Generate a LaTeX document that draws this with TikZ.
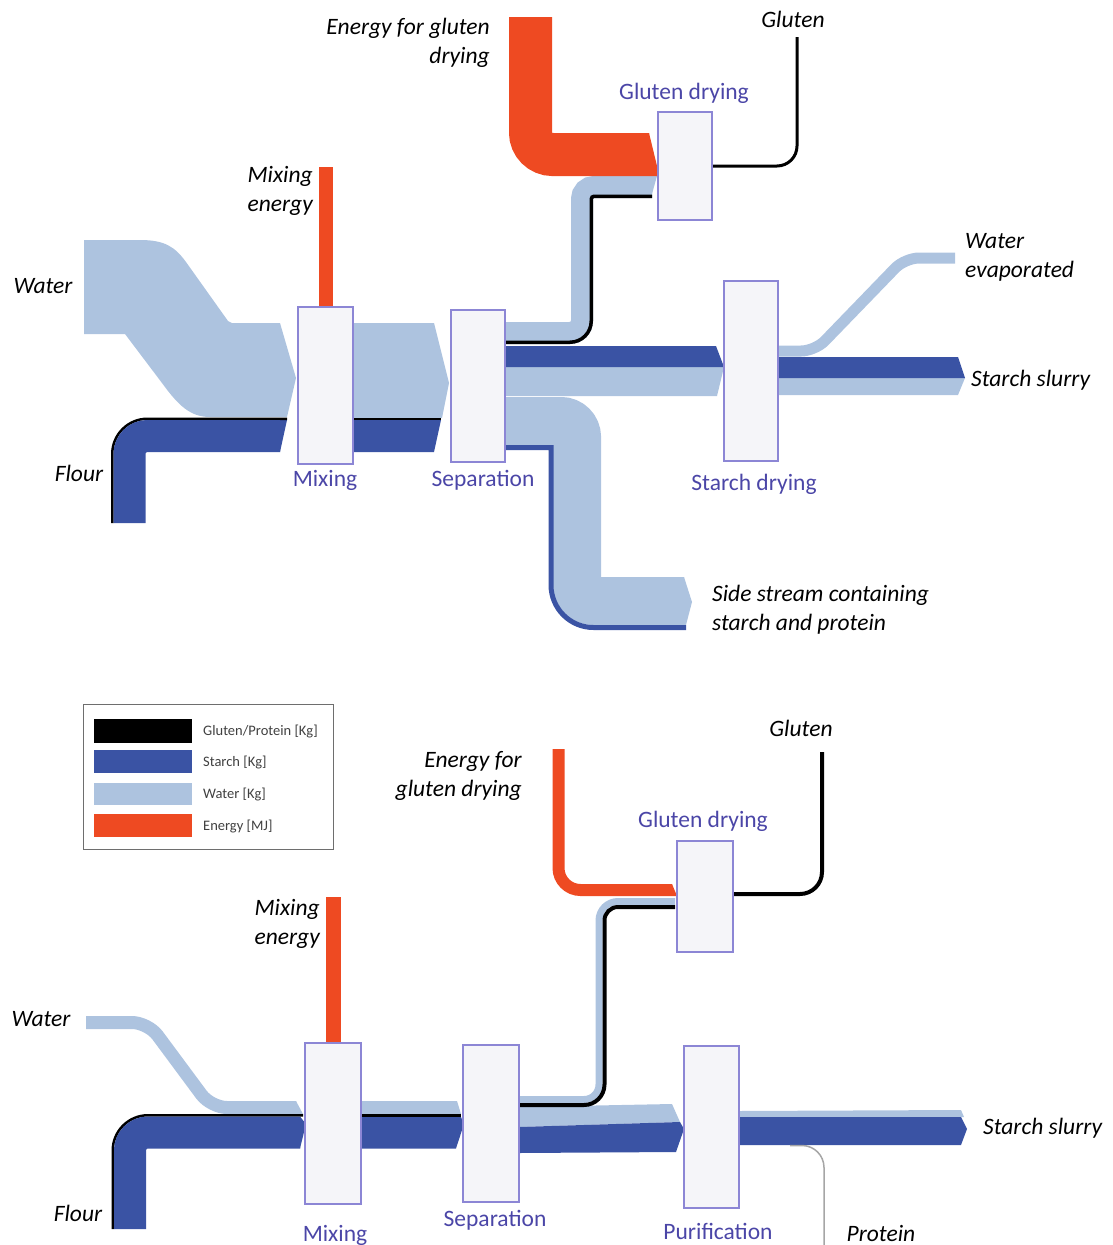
\documentclass[tikz,border=0pt]{standalone}
\usepackage{fontspec}
\setmainfont{Carlito}
\usetikzlibrary{positioning}

\definecolor{starchc}{HTML}{3A53A4}
\definecolor{waterc}{HTML}{ADC3DF}
\definecolor{energyc}{HTML}{EE4A22}
\definecolor{boxfill}{HTML}{F5F5F9}
\definecolor{boxline}{HTML}{8C86D5}
\definecolor{proctext}{HTML}{4B46A7}
\definecolor{legline}{HTML}{6E6E6E}

\tikzset{
    flow/.style = {line cap = butt},
    proc/.style = {draw = boxline, fill = boxfill, line width = 1.3pt, inner sep = 0pt},
    lbl/.style = {font = \fontsize{23.5}{29}\selectfont\itshape, inner sep = 0pt},
    plbl/.style = {text = proctext, font = \fontsize{23.5}{27}\selectfont, inner sep = 0pt},
    leglbl/.style = {font = \fontsize{14.5}{16}\selectfont, text = black!75, inner sep = 0pt, anchor = west}
}

\begin{document}
\begin{tikzpicture}[x = 1pt, y = -1pt]
    \useasboundingbox (0, 0) rectangle (1112, 1245);

    % upper chart
    \fill[waterc]
        (84, 240) -- (140, 240) .. controls (165, 240) and (175, 247) .. (186, 262)
        -- (228, 321) -- (232, 323) -- (280, 323) -- (296, 378) -- (287, 417) -- (210, 417)
        .. controls (190, 417) and (178, 405) .. (162, 383) -- (125, 334) -- (84, 334) -- cycle
        (353, 323) -- (434, 323) -- (449, 383) -- (442, 418) -- (353, 418) -- cycle
        (505, 367) -- (724, 367) -- (717, 396) -- (505, 396) -- cycle
        (778, 378) -- (965, 378) -- (958, 395) -- (778, 395) -- cycle
        (684, 577) -- (692, 602) -- (686, 625) -- (684, 625) -- cycle
        (652, 176) -- (657, 176) -- (652, 194) -- cycle;
    \fill[starchc]
        (280, 420) -- (287, 420) -- (280, 452) -- cycle
        (353, 420) -- (441, 420) -- (434, 452) -- (353, 452) -- cycle
        (505, 346) -- (716, 346) -- (724, 367) -- (505, 367) -- cycle
        (778, 357) -- (958, 357) -- (965, 378) -- (778, 378) -- cycle;

    \draw[black, line width = 2.5, rounded corners = 35.25pt] (112.25, 523) -- (112.25, 418.75) -- (287, 418.75);
    \draw[flow, starchc, line width = 32, rounded corners = 18pt] (129.5, 523) -- (129.5, 436) -- (280, 436);
    \draw[black, line width = 2.5] (353, 419) -- (441, 419);

    \draw[flow, waterc, line width = 48, rounded corners = 16pt] (505, 421) -- (577, 421) -- (577, 601) -- (684, 601);
    \draw[flow, starchc, line width = 5] (505, 447.5) -- (551, 447.5) [rounded corners = 42.5pt] -- (551, 627.5) -- (686, 627.5);

    \draw[flow, waterc, line width = 22, rounded corners = 12pt] (505, 333) -- (582, 333) -- (582, 187) -- (652, 187);
    \draw[flow, black, line width = 3.5] (505, 342.25) [rounded corners = 21.25pt] -- (591.25, 342.25) [rounded corners = 2.75pt] -- (591.25, 196.25) -- (652, 196.25);

    \draw[flow, energyc, line width = 43, rounded corners = 22pt] (530.5, 17) -- (530.5, 154.5) -- (649, 154.5);
    \fill[energyc] (649, 133) -- (658, 170) -- (657, 176) -- (649, 176) -- cycle;
    \draw[flow, energyc, line width = 14] (326, 167) -- (326, 307);

    \draw[black, line width = 3, rounded corners = 20pt] (712, 166) -- (797, 166) -- (797, 37);
    \draw[flow, waterc, line width = 11, rounded corners = 14pt] (778, 351) -- (815, 351) -- (905, 258) -- (955, 258);

    \node[proc, minimum width = 55pt, minimum height = 157pt] (mixA) at (325.5, 385.5) {};
    \node[proc, minimum width = 54pt, minimum height = 152pt] (sepA) at (478, 386) {};
    \node[proc, minimum width = 54pt, minimum height = 108pt] (glutA) at (685, 166) {};
    \node[proc, minimum width = 54pt, minimum height = 180pt] (stdryA) at (751, 371) {};

    \node[plbl] (tMixA) at (325, 480) {Mixing};
    \node[plbl] (tSepA) at (483, 480) {Separation};
    \node[plbl] (tGlutA) at (684, 93) {Gluten drying};
    \node[plbl] (tStdryA) at (754, 484) {Starch drying};

    \node[lbl, align = right, anchor = east] (inEnGlutA) at (490, 43) {Energy for gluten\\drying};
    \node[lbl] (outGlutA) at (793, 19) {Gluten};
    \node[lbl, align = right, anchor = east] (inEnMixA) at (313, 191) {Mixing\\energy};
    \node[lbl] (inWaterA) at (43, 286) {Water};
    \node[lbl] (inFlourA) at (79, 473) {Flour};
    \node[lbl, align = left, anchor = west] (outEvapA) at (965, 257) {Water\\evaporated};
    \node[lbl, anchor = west] (outSlurryA) at (971, 380) {Starch slurry};
    \node[lbl, align = left, anchor = west] (outSideA) at (712, 610) {Side stream containing\\starch and protein};

    % legend
    \node[draw = legline, line width = 1.2pt, minimum width = 250pt, minimum height = 145pt, inner sep = 0pt, anchor = north west] (legend) at (83, 704) {};
    \fill[black] (94, 719) rectangle (192, 743);
    \fill[starchc] (94, 750) rectangle (192, 773);
    \fill[waterc] (94, 783) rectangle (192, 805);
    \fill[energyc] (94, 814) rectangle (192, 837);
    \node[leglbl] (legGlut) at (203, 731) {Gluten/Protein [Kg]};
    \node[leglbl] (legStarch) at (203, 762) {Starch [Kg]};
    \node[leglbl] (legWater) at (203, 794) {Water [Kg]};
    \node[leglbl] (legEnergy) at (203, 826) {Energy [MJ]};

    % lower chart
    \fill[waterc]
        (296, 1101) -- (303, 1114) -- (296, 1114) -- cycle
        (361, 1101) -- (457, 1101) -- (461, 1114) -- (361, 1114) -- cycle
        (519, 1107) -- (672, 1104) -- (680, 1122) -- (519, 1127) -- cycle
        (739, 1111) -- (961, 1110) -- (964, 1117) -- (739, 1117) -- cycle;
    \fill[starchc]
        (300, 1116.5) -- (306, 1124) -- (300, 1148.5) -- cycle
        (361, 1117) -- (461, 1117) -- (464, 1124) -- (456, 1148.5) -- (361, 1148.5) -- cycle
        (519, 1127) -- (680, 1122) -- (684, 1129) -- (676, 1152) -- (519, 1153) -- cycle
        (739, 1117) -- (961, 1117) -- (967, 1129) -- (961, 1145) -- (739, 1145) -- cycle;

    \draw[flow, waterc, line width = 13, rounded corners = 16pt] (86, 1022.5) -- (148, 1022.5) -- (211, 1107.5) -- (296, 1107.5);
    \draw[black, line width = 2.5, rounded corners = 35.25pt] (112.75, 1229) -- (112.75, 1115.25) -- (303, 1115.25);
    \draw[flow, starchc, line width = 32, rounded corners = 18pt] (130, 1229) -- (130, 1132.5) -- (300, 1132.5);
    \draw[black, line width = 2.5] (361, 1115.5) -- (461, 1115.5);

    \draw[flow, waterc, line width = 7] (519, 1099.5) [rounded corners = 15pt] -- (599, 1099.5) [rounded corners = 19pt] -- (599, 901.5) -- (675, 901.5);
    \draw[flow, black, line width = 4] (519, 1105) [rounded corners = 20.5pt] -- (604.5, 1105) [rounded corners = 13.5pt] -- (604.5, 907) -- (675, 907);

    \draw[flow, energyc, line width = 12, rounded corners = 22pt] (558.5, 749) -- (558.5, 890) -- (672, 890);
    \fill[energyc] (672, 884) -- (677, 896) -- (672, 896) -- cycle;
    \draw[flow, energyc, line width = 15] (333.5, 897) -- (333.5, 1043);

    \draw[black, line width = 4, rounded corners = 22pt] (733, 894) -- (822, 894) -- (822, 752);
    \draw[gray!70, line width = 1.5, rounded corners = 22pt] (790, 1145.5) -- (824, 1145.5) -- (824, 1250);

    \node[proc, minimum width = 56pt, minimum height = 161pt] (mixB) at (333, 1123.5) {};
    \node[proc, minimum width = 56pt, minimum height = 157pt] (sepB) at (491, 1123.5) {};
    \node[proc, minimum width = 56pt, minimum height = 111pt] (glutB) at (705, 896.5) {};
    \node[proc, minimum width = 55pt, minimum height = 162pt] (purB) at (711.5, 1127) {};

    \node[plbl] (tMixB) at (335, 1235) {Mixing};
    \node[plbl] (tSepB) at (495, 1220) {Separation};
    \node[plbl] (tGlutB) at (703, 821) {Gluten drying};
    \node[plbl] (tPurB) at (718, 1231) {Purification};

    \node[lbl] (outGlutB) at (801, 728) {Gluten};
    \node[lbl, align = right, anchor = east] (inEnGlutB) at (522, 776) {Energy for\\gluten drying};
    \node[lbl, align = right, anchor = east] (inEnMixB) at (320, 924) {Mixing\\energy};
    \node[lbl] (inWaterB) at (41, 1019) {Water};
    \node[lbl] (inFlourB) at (78, 1213) {Flour};
    \node[lbl, anchor = west] (outSlurryB) at (983, 1128) {Starch slurry};
    \node[lbl] (outProtB) at (881, 1233) {Protein};
\end{tikzpicture}
\end{document}
